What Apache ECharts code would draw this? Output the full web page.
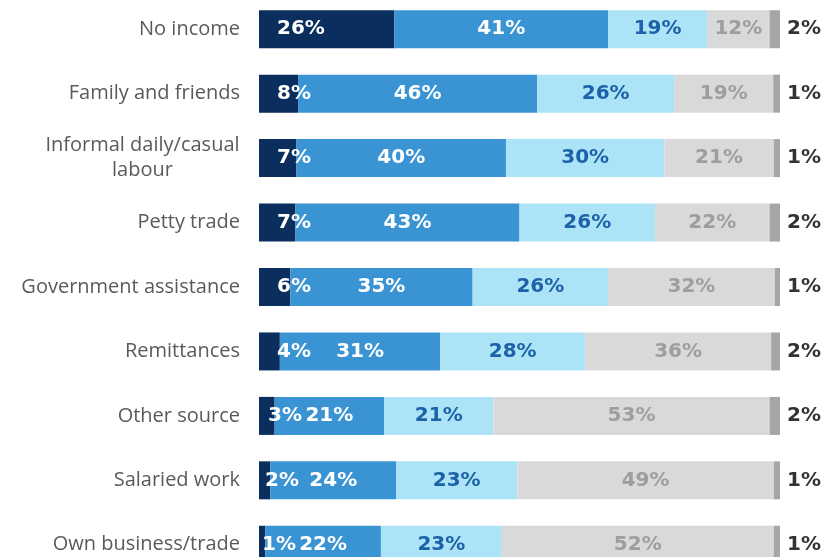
<!DOCTYPE html>
<html><head><meta charset="utf-8">
<script src="https://cdn.jsdelivr.net/npm/echarts@6/dist/echarts.min.js"></script>
<style>html,body{margin:0;padding:0;background:#fff}#c{width:830px;height:557px}</style>
</head><body><div id="c"></div>
<script>
const categories = ['No income','Family and friends','Informal daily/casual\nlabour','Petty trade','Government assistance','Remittances','Other source','Salaried work','Own business/trade'];
const seriesA = [26, 7.5, 7.2, 7, 6, 4.0, 3, 2.2, 1.2];
const seriesB = [41, 45.9, 40.2, 43, 35, 30.8, 21, 24.1, 22.2];
const seriesC = [19, 26.3, 30.4, 26, 26, 27.8, 21, 23.3, 23.2];
const seriesD = [12, 19.0, 21.0, 22, 32, 35.7, 53, 49.2, 52.2];
const seriesE = [2, 1.3, 1.2, 2, 1, 1.7, 2, 1.2, 1.2];

const colors = ['#0a2e5e', '#3a94d4', '#ade3f6', '#d9d9d9', '#a6a6a6'];
const labelColors = ['#ffffff', '#ffffff', '#1c62a8', '#9e9e9e', '#333333'];
const font = 'DejaVu Sans';
const catFont = '20px "Open Sans"';
const fmt = p => Math.round(p.value) + '%';

const ctx = document.createElement('canvas').getContext('2d');
ctx.font = catFont;
function catFormatter(v) {
  const lines = v.split('\n');
  if (lines.length === 1) return v;
  const w = Math.ceil(Math.max.apply(null, lines.map(l => ctx.measureText(l).width)));
  catRich.c.width = w;
  return lines.map(l => '{c|' + l + '}').join('\n');
}
const catRich = { c: { align: 'center', width: 200, fontSize: 20, fontFamily: 'Open Sans', color: '#5a5a5a', lineHeight: 25 } };

function mk(data, i, extraLabel) {
  return {
    type: 'bar', stack: 'total', barWidth: 38,
    itemStyle: { color: colors[i] },
    label: Object.assign({ show: true, formatter: fmt, color: labelColors[i], fontFamily: font, fontWeight: 'bold', fontSize: 20 }, extraLabel),
    data: data
  };
}

const sA = mk(seriesA, 0, { position: 'insideLeft' });
sA.data = seriesA.map(v => ({ value: v, label: { distance: Math.round(v) >= 4 ? 18 : 3 * Math.round(v) } }));

// pre-compute rich width
categories.forEach(c => catFormatter(c));

const chart = echarts.init(document.getElementById('c'), null, { renderer: 'canvas' });
chart.setOption({
  animation: false,
  grid: { left: 259, width: 521, top: -3, height: 580, containLabel: false, outerBoundsMode: 'none' },
  xAxis: { type: 'value', min: 0, max: 100, show: false },
  yAxis: {
    type: 'category', data: categories, inverse: true,
    axisLine: { show: false }, axisTick: { show: false },
    axisLabel: { color: '#5a5a5a', fontSize: 20, fontFamily: 'Open Sans', margin: 19, lineHeight: 25, align: 'right', formatter: catFormatter, rich: catRich }
  },
  series: [
    sA,
    mk(seriesB, 1, { position: 'inside' }),
    mk(seriesC, 2, { position: 'inside' }),
    mk(seriesD, 3, { position: 'inside' }),
    mk(seriesE, 4, { position: 'right', distance: 7 })
  ]
});
</script></body></html>
